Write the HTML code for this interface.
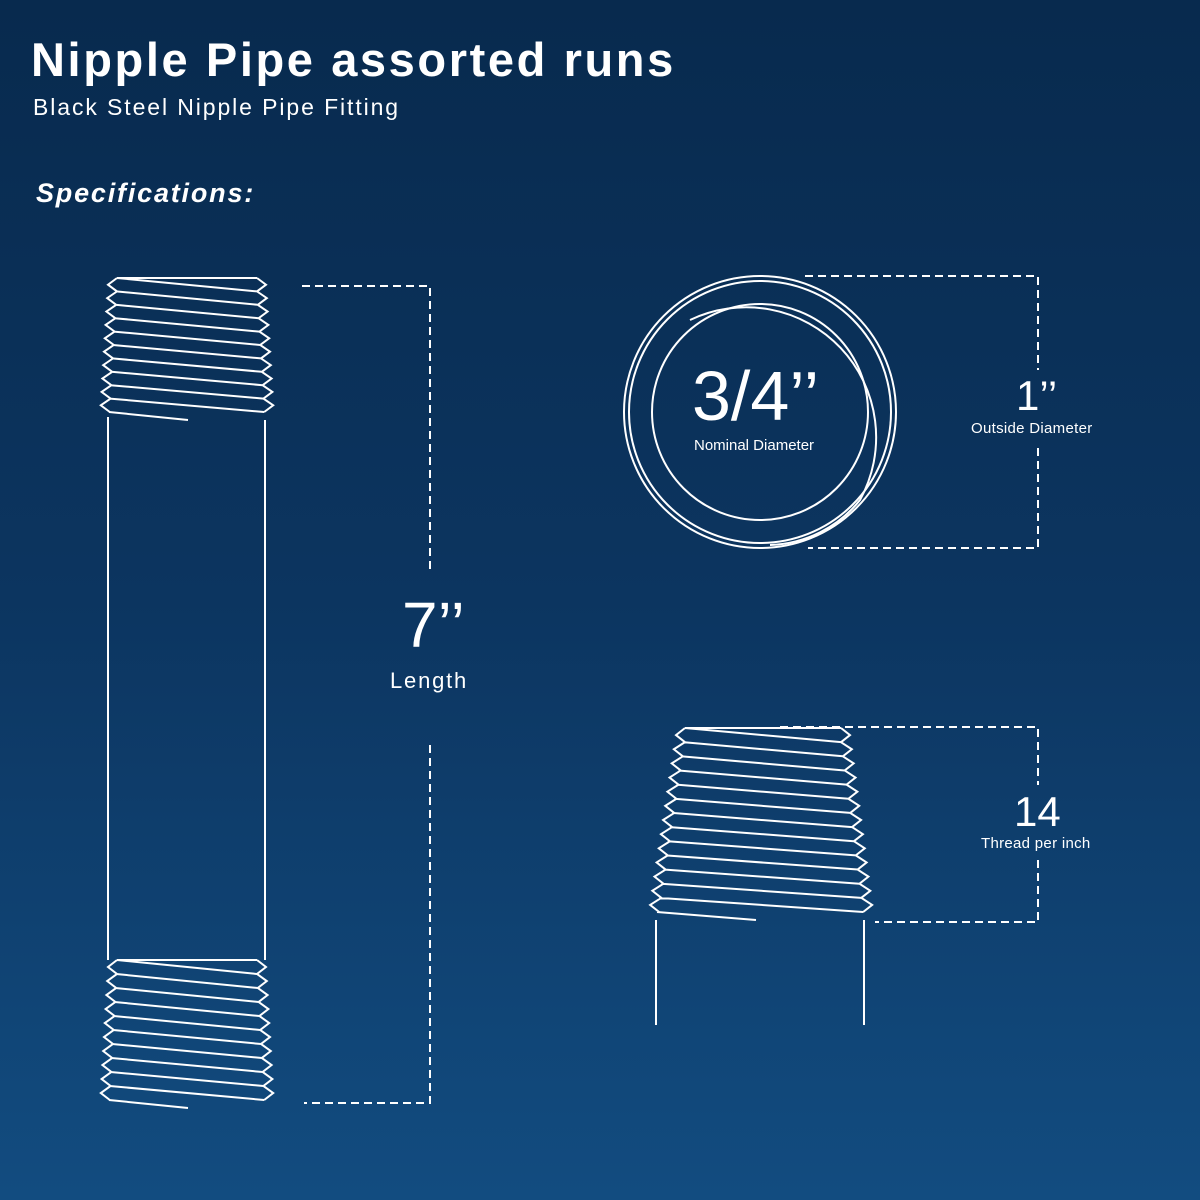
<!DOCTYPE html><html><head><style>
body{margin:0;width:1200px;height:1200px;overflow:hidden;background:linear-gradient(180deg,#082a4e 0%,#0c3560 50%,#124c80 100%);font-family:"Liberation Sans",sans-serif;color:#fff;position:relative}
.t{position:absolute;white-space:nowrap}
</style></head><body>
<div class="t" style="left:31px;top:32px;font-size:47px;font-weight:bold;letter-spacing:2.6px">Nipple Pipe assorted runs</div>
<div class="t" style="left:33px;top:94px;font-size:23px;letter-spacing:1.9px">Black Steel Nipple Pipe Fitting</div>
<div class="t" style="left:36px;top:178px;font-size:27px;font-weight:bold;font-style:italic;letter-spacing:1.8px">Specifications:</div>
<div class="t" style="left:402px;top:588px;font-size:64px">7’’</div>
<div class="t" style="left:390px;top:668px;font-size:22px;letter-spacing:1.8px">Length</div>
<div class="t" style="left:692px;top:356px;font-size:70px">3/4’’</div>
<div class="t" style="left:694px;top:437px;font-size:15px">Nominal Diameter</div>
<div class="t" style="left:1016px;top:372px;font-size:42px">1’’</div>
<div class="t" style="left:971px;top:420px;font-size:15px;letter-spacing:0.3px">Outside Diameter</div>
<div class="t" style="left:1014px;top:788px;font-size:42px">14</div>
<div class="t" style="left:981px;top:835px;font-size:15px;letter-spacing:0.3px">Thread per inch</div>
<svg id="s" width="1200" height="1200" style="position:absolute;left:0;top:0" fill="none" stroke="#fff" stroke-width="2">
<g stroke-dasharray="8,5" stroke-width="2">
<path d="M302 286H430V570M430 745V1103H304"/>
<path d="M805 276H1038V370M1038 448V548H808"/>
<path d="M780 727H1038V785M1038 860V922H875"/>
</g>
<circle cx="760" cy="412" r="136"/><circle cx="760" cy="412" r="131"/><circle cx="760" cy="412" r="108"/>
<path d="M690 320 A130 130 0 0 1 860 500 A120 120 0 0 1 770 545"/>
<path d="M108 417V960M265 420V960M656 920V1025M864 920V1025"/>
</svg>
<script>
var s=document.getElementById('s');
function th(x0,x1,y0,y1,n,a,b){var p=(y1-y0)/n,d='';var L='M'+(x0+9)+' '+y0,R='M'+(x1-9)+' '+y0;
for(var i=0;i<n;i++){var y=y0+i*p;L+=' L'+(x0-(a*i/n))+' '+(y+p/2)+' L'+(x0+9-(a*i/n))+' '+(y+p);R+=' L'+(x1+(b*i/n))+' '+(y+p/2)+' L'+(x1-9+(b*i/n))+' '+(y+p);
d+=' M'+(x0+9-(a*i/n))+' '+y+' L'+(x1-9+(b*i/n))+' '+(y+p);}
d+=' M'+(x0+9-a)+' '+y1+' L'+(x0+80)+' '+(y1+8);
var e=document.createElementNS('http://www.w3.org/2000/svg','path');e.setAttribute('d',L+' '+R+' '+d+' M'+(x0+9)+' '+y0+' H'+(x1-9));s.appendChild(e);}
th(108,266,278,412,10,8,8);
th(108,266,960,1100,10,8,8);
th(676,850,728,912,13,28,24);
</script>
</body></html>
